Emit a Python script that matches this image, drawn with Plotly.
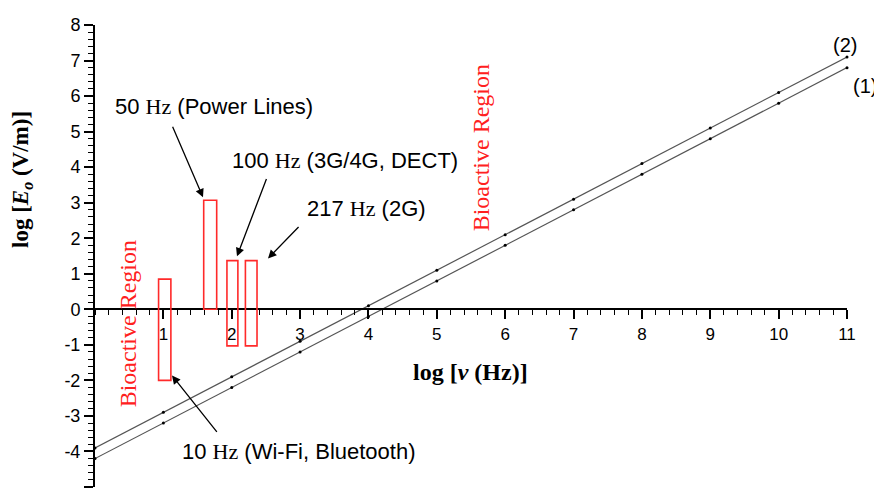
import plotly.graph_objects as go

# ---- data ----
log_freq = [0, 1, 2, 3, 4, 5, 6, 7, 8, 9, 10, 11]
curve1 = [-4.2, -3.2, -2.2, -1.2, -0.2, 0.8, 1.8, 2.8, 3.8, 4.8, 5.8, 6.8]
curve2 = [-3.9, -2.9, -1.9, -0.9, 0.1, 1.1, 2.1, 3.1, 4.1, 5.1, 6.1, 7.1]

band_names = ["10 Hz", "50 Hz", "100 Hz", "217 Hz"]
band_x0 = [0.93, 1.59, 1.93, 2.20]
band_x1 = [1.11, 1.78, 2.09, 2.37]
band_y0 = [-2.0, 0.0, -1.03, -1.03]
band_y1 = [0.85, 3.07, 1.37, 1.37]

x_ticks = [1, 2, 3, 4, 5, 6, 7, 8, 9, 10, 11]
y_ticks = [-5, -4, -3, -2, -1, 0, 1, 2, 3, 4, 5, 6, 7, 8]

SANS = "Liberation Sans, Arial, sans-serif"
SERIF = "Liberation Serif, Times New Roman, serif"

fig = go.Figure()
for yv in (curve1, curve2):
    fig.add_trace(go.Scatter(
        x=log_freq, y=yv, mode="lines+markers",
        line=dict(color="#555555", width=1.2),
        marker=dict(color="black", size=3),
        showlegend=False, cliponaxis=False,
    ))

shapes = []
for a, b, c, d in zip(band_x0, band_x1, band_y0, band_y1):
    shapes.append(dict(type="rect", xref="x", yref="y", x0=a, x1=b, y0=c, y1=d,
                       line=dict(color="#ff2a2a", width=1.6), fillcolor="rgba(0,0,0,0)",
                       layer="above"))

def hz(pre, post):
    return f"{pre}<span style=\"font-family:'Liberation Serif'\">Hz</span>{post}"

ann = []
labels = [
    (hz("50 ", " (Power Lines)"), 0.26, 5.71),
    (hz("100 ", " (3G/4G, DECT)"), 1.98, 4.19),
    (hz("217 ", " (2G)"), 3.07, 2.84),
    (hz("10 ", " (Wi-Fi, Bluetooth)"), 1.24, -4.0),
]
for t, x, y in labels:
    ann.append(dict(text=t, x=x, y=y, xref="x", yref="y", xanchor="left", yanchor="middle",
                    showarrow=False, font=dict(family=SANS, size=22, color="black")))
arrows = [
    (1.126, 5.18, 1.58, 3.15),
    (2.516, 3.71, 2.077, 1.49),
    (2.999, 2.36, 2.53, 1.43),
    (1.80, -3.49, 1.126, -1.86),
]
for tx, ty, hx, hy in arrows:
    ann.append(dict(text="", x=hx, y=hy, ax=tx, ay=ty, xref="x", yref="y", axref="x", ayref="y",
                    showarrow=True, arrowhead=2, arrowsize=1.3, arrowwidth=1.3, arrowcolor="black",
                    standoff=0, startstandoff=0))
for x, y in [((128 - 95) / 68.36, (309 - 324) / 35.54), ((481 - 95) / 68.36, (309 - 148) / 35.54)]:
    ann.append(dict(text="Bioactive Region", x=x, y=y, xref="x", yref="y", textangle=-90,
                    showarrow=False, xanchor="center", yanchor="middle",
                    font=dict(family=SERIF, size=24, color="#ff2020")))
ann.append(dict(text="(2)", x=(845 - 95) / 752, y=(487 - 45) / 462, xref="paper", yref="paper",
                showarrow=False, xanchor="center", yanchor="middle",
                font=dict(family=SANS, size=20, color="black")))
ann.append(dict(text="(1)", x=(851 - 95) / 752, y=(487 - 86) / 462, xref="paper", yref="paper",
                showarrow=False, xanchor="left", yanchor="middle",
                font=dict(family=SANS, size=20, color="black")))
ann.append(dict(text="<b>log [<i>E<sub>o</sub></i> (V/m)]</b>", x=(22 - 95) / 752, y=(487 - 180) / 462,
                xref="paper", yref="paper", textangle=-90, showarrow=False,
                xanchor="center", yanchor="middle", font=dict(family=SERIF, size=23, color="black")))
ann.append(dict(text="<b>log [<i>ν</i> (Hz)]</b>", x=(470 - 95) / 68.36, y=(309 - 372) / 35.54,
                xref="x", yref="y", showarrow=False, xanchor="center", yanchor="middle",
                font=dict(family=SERIF, size=24, color="black")))

fig.update_layout(
    width=874, height=490,
    margin=dict(l=95, r=27, t=25, b=3),
    paper_bgcolor="white", plot_bgcolor="white",
    shapes=shapes, annotations=ann,
    xaxis=dict(range=[0, 11], anchor="free", position=5 / 13, showgrid=False, zeroline=False,
               showline=True, linecolor="black", linewidth=2,
               tickmode="array", tickvals=x_ticks, ticktext=[str(v) for v in x_ticks],
               ticks="outside", ticklen=9, tickwidth=1.5, tickcolor="black",
               minor=dict(dtick=0.2, ticks="outside", ticklen=5, tickwidth=1.2, tickcolor="black"),
               tickfont=dict(family=SANS, size=17, color="black")),
    yaxis=dict(range=[-5, 8], domain=[0, 1], showgrid=False, zeroline=False,
               showline=True, linecolor="black", linewidth=2,
               tickmode="array", tickvals=y_ticks, ticktext=[str(v) for v in y_ticks],
               ticks="outside", ticklen=9, tickwidth=1.5, tickcolor="black",
               minor=dict(dtick=0.2, ticks="outside", ticklen=5, tickwidth=1.2, tickcolor="black"),
               tickfont=dict(family=SANS, size=18, color="black")),
)

fig.write_html("out.html", config={"displayModeBar": False},
               post_script="document.body.style.margin='0px';")
